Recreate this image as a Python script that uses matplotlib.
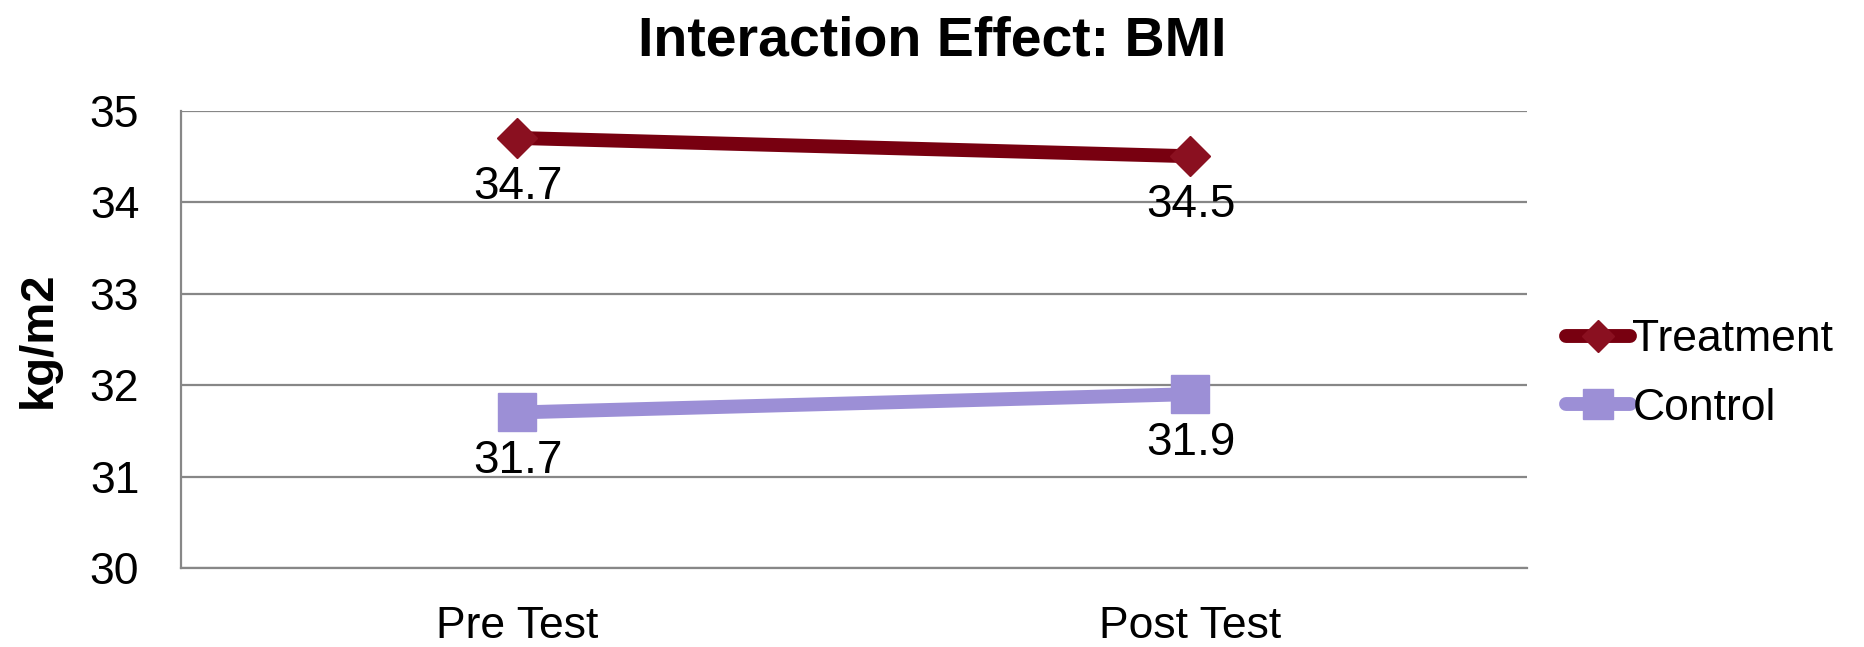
import matplotlib
matplotlib.use("Agg")
import matplotlib.pyplot as plt
from matplotlib.lines import Line2D

plt.rcParams['font.family'] = ['Liberation Sans', 'DejaVu Sans']

categories = ["Pre Test", "Post Test"]
treatment = [34.7, 34.5]
control = [31.7, 31.9]
series_names = ["Treatment", "Control"]
y_ticks = [30, 31, 32, 33, 34, 35]

t_color = "#780010"
t_marker = "#8A1020"
c_color = "#9C8FD6"
grid_color = "#878787"

fig = plt.figure(figsize=(18.64, 6.47), dpi=100)
ax = fig.add_axes([0.0971, 0.1221, 0.8192 - 0.0971, 0.8292 - 0.1221])

x = list(range(len(categories)))
ax.plot(x, treatment, color=t_color, lw=10, solid_capstyle='butt',
        marker='D', markersize=20, markerfacecolor=t_marker, markeredgecolor=t_marker, zorder=3)
ax.plot(x, control, color=c_color, lw=10, solid_capstyle='butt',
        marker='s', markersize=27, markerfacecolor=c_color, markeredgecolor=c_color, zorder=3)

for xi, v in zip(x, treatment):
    ax.annotate(f"{v:.1f}", (xi, v), xytext=(0, -35), textcoords='offset points',
                ha='center', va='center', fontsize=33, color='black', zorder=4)
for xi, v in zip(x, control):
    ax.annotate(f"{v:.1f}", (xi, v), xytext=(0, -35), textcoords='offset points',
                ha='center', va='center', fontsize=33, color='black', zorder=4)

ax.set_xlim(-0.5, 1.5)
ax.set_ylim(30, 35)
ax.set_yticks(y_ticks)
ax.set_yticklabels([str(t) for t in y_ticks], fontsize=32)
ax.set_xticks(x)
ax.set_xticklabels(categories, fontsize=32)
ax.tick_params(axis='y', length=0, pad=30)
ax.tick_params(axis='x', length=0, pad=27)

ax.grid(axis='y', color=grid_color, lw=1.6)
ax.set_axisbelow(True)
for s in ['top', 'right']:
    ax.spines[s].set_visible(False)
ax.spines['left'].set_color(grid_color)
ax.spines['left'].set_linewidth(1.6)
ax.spines['bottom'].set_color(grid_color)
ax.spines['bottom'].set_linewidth(1.6)

ax.set_ylabel("kg/m2", fontsize=34, fontweight='bold')
ax.yaxis.set_label_coords(-0.089, 0.5)
fig.text(0.5, 1 - 56 / 647, "Interaction Effect: BMI", fontsize=40, fontweight='bold',
         ha='center', va='baseline')

handles = [
    Line2D([0], [0], color=t_color, lw=10, solid_capstyle='round', marker='D', markersize=16,
           markerfacecolor=t_marker, markeredgecolor=t_marker),
    Line2D([0], [0], color=c_color, lw=10, solid_capstyle='round', marker='s', markersize=21,
           markerfacecolor=c_color, markeredgecolor=c_color),
]
fig.legend(handles, series_names, loc='center left', bbox_to_anchor=(0.840, 0.422),
           frameon=False, fontsize=32, handlelength=1.45, handletextpad=0.05,
           labelspacing=0.62, borderaxespad=0, borderpad=0)

fig.savefig("out.png", dpi=100)
